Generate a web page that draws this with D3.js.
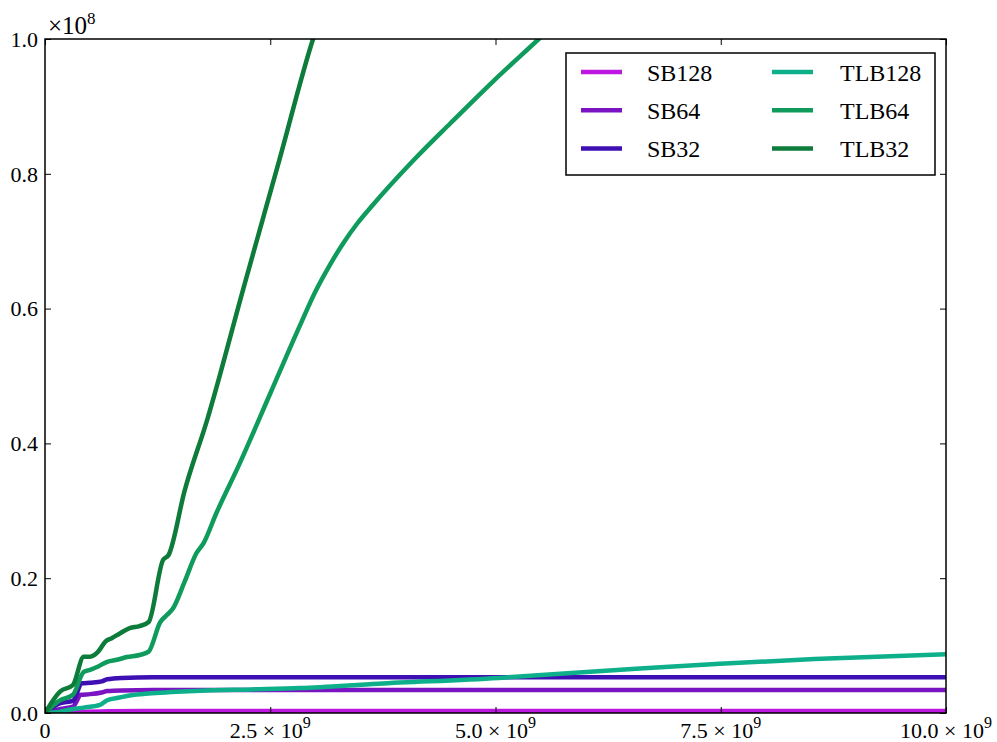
<!doctype html>
<html>
<head>
<meta charset="utf-8">
<title>SB vs TLB</title>
<style>
  body { margin: 0; background: #fff; }
</style>
</head>
<body>
<div id="chart"></div>
<script src="https://d3js.org/d3.v7.min.js"></script>
<script>
// x in units of 1e9, y in units of 1e8
var seriesNames = ["SB128", "SB64", "SB32", "TLB128", "TLB64", "TLB32"];
var seriesColors = ["#bc17e0", "#7a14c2", "#3e0fb2", "#0db08a", "#0e9b5b", "#0d7b3a"];

var sb128 = [[0,0],[0.17,0.001],[0.31,0.0015],[0.42,0.002],[0.7,0.0025],[1.2,0.003],[10,0.003]];
var sb64 = [[0,0],[0.17,0.006],[0.31,0.0095],[0.4,0.027],[0.5,0.028],[0.63,0.0305],[0.69,0.0325],[0.85,0.0335],[1.2,0.034],[10,0.034]];
var sb32 = [[0,0],[0.17,0.0145],[0.31,0.018],[0.41,0.044],[0.5,0.045],[0.63,0.047],[0.69,0.05],[0.85,0.052],[1.2,0.053],[10,0.053]];
var tlb128 = [[0,0],[0.17,0.002],[0.31,0.006],[0.43,0.008],[0.61,0.012],[0.69,0.019],[0.83,0.023],[0.94,0.026],[1.15,0.029],[1.4,0.031],[1.72,0.033],[2.3,0.035],[2.83,0.037],[3.7,0.0435],[5.03,0.052],[5.8,0.059],[6.6,0.066],[7.49,0.073],[8.54,0.08],[10,0.087]];
var tlb64 = [[0,0],[0.17,0.019],[0.31,0.027],[0.43,0.061],[0.5,0.064],[0.59,0.069],[0.69,0.076],[0.8,0.079],[0.91,0.083],[1.05,0.086],[1.15,0.091],[1.28,0.135],[1.35,0.145],[1.42,0.155],[1.55,0.195],[1.68,0.237],[1.76,0.252],[1.9,0.296],[2.16,0.37],[2.5,0.474],[2.83,0.575],[3.0,0.625],[3.15,0.662],[3.31,0.697],[3.47,0.727],[3.64,0.754],[4.09,0.82],[4.5,0.875],[4.98,0.938],[5.48,1.0],[5.6,1.015]];
var tlb32 = [[0,0],[0.17,0.032],[0.31,0.0415],[0.43,0.0836],[0.5,0.0836],[0.59,0.091],[0.67,0.106],[0.74,0.111],[0.83,0.118],[0.94,0.126],[1.05,0.129],[1.15,0.135],[1.31,0.227],[1.37,0.234],[1.55,0.33],[1.8,0.435],[2.2,0.629],[2.6,0.82],[2.975,1.0],[3.05,1.03]];
var seriesData = [sb128, sb64, sb32, tlb128, tlb64, tlb32];

var xTicks = [0, 2.5, 5, 7.5, 10];
var xTickLabels = ["0", "2.5", "5.0", "7.5", "10.0"];
var yTicks = [0, 0.2, 0.4, 0.6, 0.8, 1.0];
var yTickLabels = ["0.0", "0.2", "0.4", "0.6", "0.8", "1.0"];

var FONT = "'Liberation Serif', 'DejaVu Serif', serif";

var W = 997, H = 742;
var margin = {top: 39, right: 51, bottom: 29, left: 45},
    width = W - margin.left - margin.right,
    height = H - margin.top - margin.bottom;

var svg = d3.select("#chart").append("svg")
    .attr("width", W).attr("height", H)
    .attr("font-family", FONT);

var g = svg.append("g")
    .attr("transform", "translate(" + margin.left + "," + margin.top + ")");

var x = d3.scaleLinear().domain([0, 10]).range([0, width]);
var y = d3.scaleLinear().domain([0, 1]).range([height, 0]);

g.append("clipPath").attr("id", "plotclip")
  .append("rect").attr("width", width).attr("height", height);

// lines
var line = d3.line()
    .curve(d3.curveMonotoneX)
    .x(function(d) { return x(d[0]); })
    .y(function(d) { return y(d[1]); });

g.append("g").attr("clip-path", "url(#plotclip)")
  .selectAll("path")
  .data(seriesData)
  .enter().append("path")
    .attr("d", line)
    .attr("fill", "none")
    .attr("stroke", function(d, i) { return seriesColors[i]; })
    .attr("stroke-width", 4.5)
    .attr("stroke-linejoin", "round");

// axes with inward ticks on all four sides
var tickLen = 6;
g.append("g").attr("transform", "translate(0," + height + ")")
  .call(d3.axisBottom(x).tickValues(xTicks).tickSizeInner(-tickLen).tickSizeOuter(0).tickFormat(""));
g.append("g")
  .call(d3.axisTop(x).tickValues(xTicks).tickSizeInner(-tickLen).tickSizeOuter(0).tickFormat(""));
g.append("g")
  .call(d3.axisLeft(y).tickValues(yTicks).tickSizeInner(-tickLen).tickSizeOuter(0).tickFormat(""));
g.append("g").attr("transform", "translate(" + width + ",0)")
  .call(d3.axisRight(y).tickValues(yTicks).tickSizeInner(-tickLen).tickSizeOuter(0).tickFormat(""));
g.selectAll(".domain").remove();
g.selectAll(".tick line").attr("stroke", "#000").attr("stroke-width", 1);

// frame
g.append("rect")
  .attr("width", width).attr("height", height)
  .attr("fill", "none").attr("stroke", "#000").attr("stroke-width", 1.5);

// y tick labels
g.selectAll(".ylab").data(yTicks).enter().append("text")
  .attr("class", "ylab")
  .attr("x", -7)
  .attr("y", function(d) { return y(d); })
  .attr("dy", "0.35em")
  .attr("text-anchor", "end")
  .style("font-family", FONT)
  .style("font-size", "22px")
  .text(function(d, i) { return yTickLabels[i]; });

// x tick labels
var xl = g.selectAll(".xlab").data(xTicks).enter().append("text")
  .attr("class", "xlab")
  .attr("x", function(d) { return x(d); })
  .attr("y", height + 25)
  .attr("text-anchor", "middle")
  .style("font-family", FONT)
  .style("font-size", "22px");
xl.append("tspan").text(function(d, i) { return i === 0 ? xTickLabels[i] : xTickLabels[i] + " \u00d7 10"; });
xl.filter(function(d, i) { return i > 0; })
  .append("tspan").attr("dy", -10).style("font-size", "16px").text("9");

// offset text
var off = g.append("text").attr("x", 3).attr("y", -5)
  .style("font-family", FONT).style("font-size", "25px");
off.append("tspan").text("\u00d710");
off.append("tspan").attr("dy", -10).style("font-size", "17px").text("8");

// legend
var lg = svg.append("g").attr("transform", "translate(566,53)");
lg.append("rect").attr("width", 369).attr("height", 122)
  .attr("fill", "#fff").attr("stroke", "#000").attr("stroke-width", 1.5);
var items = lg.selectAll(".item").data(seriesNames).enter().append("g")
  .attr("class", "item")
  .attr("transform", function(d, i) {
    return "translate(" + (i < 3 ? 15 : 206) + "," + (19 + (i % 3) * 38.3) + ")";
  });
items.append("line")
  .attr("x1", 0).attr("x2", 41)
  .attr("stroke", function(d, i) { return seriesColors[i]; })
  .attr("stroke-width", 4.5);
items.append("text")
  .attr("x", function(d, i) { return i < 3 ? 66 : 68; })
  .attr("dy", "0.36em")
  .style("font-family", FONT)
  .style("font-size", "24px")
  .text(function(d) { return d; });
</script>
</body>
</html>
